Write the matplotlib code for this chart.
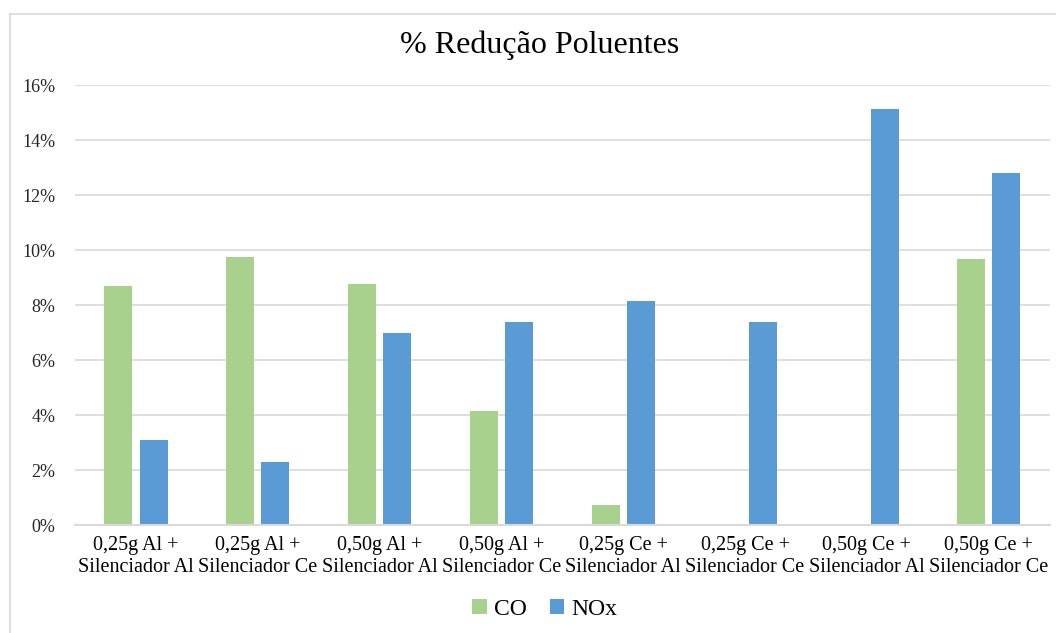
import matplotlib.pyplot as plt
import numpy as np
from matplotlib.lines import Line2D
from matplotlib.ticker import FuncFormatter

plt.rcParams['font.family'] = ['Liberation Serif', 'DejaVu Serif']

categories = ["0,25g Al +\nSilenciador Al", "0,25g Al +\nSilenciador Ce",
              "0,50g Al +\nSilenciador Al", "0,50g Al +\nSilenciador Ce",
              "0,25g Ce +\nSilenciador Al", "0,25g Ce +\nSilenciador Ce",
              "0,50g Ce +\nSilenciador Al", "0,50g Ce +\nSilenciador Ce"]
co = [0.0869, 0.0975, 0.0876, 0.0413, 0.0072, -0.0005, -0.0005, 0.0967]
nox = [0.0309, 0.0229, 0.0698, 0.0738, 0.0815, 0.0738, 0.1513, 0.1280]

fig = plt.figure(figsize=(10.56, 6.33), dpi=100)
ax = fig.add_axes([0.071, 0.1706, 0.923, 0.6951])

x = np.arange(len(categories))
w = 0.23
ax.bar(x - 0.145, co, w, color='#A9D18E', label='CO', zorder=3, clip_on=False)
ax.bar(x + 0.145, nox, w, color='#5B9BD5', label='NOx', zorder=3, clip_on=False)

ax.set_xlim(-0.5, len(categories) - 0.5)
ax.set_ylim(0, 0.16)
ax.set_yticks(np.arange(0, 0.161, 0.02))
ax.yaxis.set_major_formatter(FuncFormatter(lambda v, p: f"{v*100:.0f}%"))
ax.grid(axis='y', color='#d9d9d9', linewidth=1.2, zorder=0)
ax.set_xticks(x)
ax.set_xticklabels(categories, fontsize=14.5, linespacing=1.2)
ax.tick_params(axis='y', labelsize=13, length=0, pad=14, colors='#262626')
ax.tick_params(axis='x', length=0, pad=8)
for s in ['top', 'right', 'left']:
    ax.spines[s].set_visible(False)
ax.spines['bottom'].set_color('#d9d9d9')
ax.spines['bottom'].set_linewidth(1.5)
ax.spines['bottom'].set_zorder(4)

fig.text(0.511, 0.928, "% Redução Poluentes", ha='center', va='center', fontsize=23)

fig.legend(loc='center', bbox_to_anchor=(0.516, 0.037), ncol=2, frameon=False,
           fontsize=17, handlelength=0.6, handleheight=0.6, handletextpad=0.3,
           columnspacing=1.0)

# chart area border
fig.add_artist(Line2D([9.5/1056, 9.5/1056], [0, 1 - 13.5/633],
                      transform=fig.transFigure, color='#d9d9d9', linewidth=1.2))
fig.add_artist(Line2D([9.5/1056, 1], [1 - 13.5/633, 1 - 13.5/633],
                      transform=fig.transFigure, color='#d9d9d9', linewidth=1.2))

fig.savefig('out.png', dpi=100)
